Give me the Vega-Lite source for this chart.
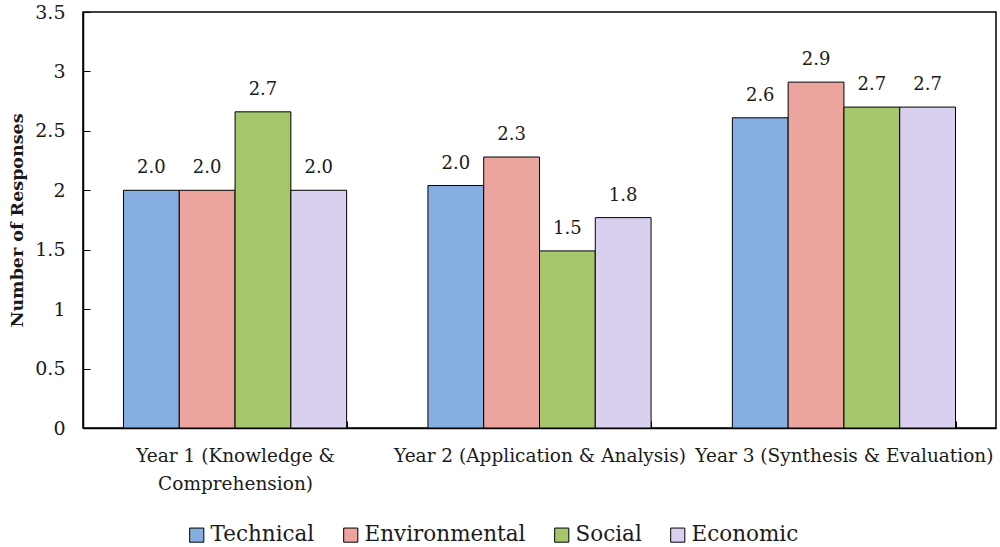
{
  "$schema": "https://vega.github.io/schema/vega-lite/v6.json",
  "width": 913,
  "height": 416,
  "autosize": {"type": "none"},
  "padding": {"left": 83, "top": 12, "right": 4, "bottom": 119},
  "config": {
    "view": {"stroke": "black", "strokeWidth": 1.5},
    "font": "DejaVu Serif",
    "axis": {"domainColor": "black", "tickColor": "black", "labelColor": "#1a1a1a", "titleColor": "#1a1a1a", "grid": false, "domainWidth": 1.5, "labelFont": "DejaVu Serif", "titleFont": "DejaVu Serif"},
    "legend": {"labelFont": "DejaVu Serif"},
    "text": {"font": "DejaVu Serif"}
  },
  "data": {
    "values": [
      {"year": "Year 1 (Knowledge & Comprehension)", "cat": "Technical", "value": 2.0},
      {"year": "Year 1 (Knowledge & Comprehension)", "cat": "Environmental", "value": 2.0},
      {"year": "Year 1 (Knowledge & Comprehension)", "cat": "Social", "value": 2.66},
      {"year": "Year 1 (Knowledge & Comprehension)", "cat": "Economic", "value": 2.0},
      {"year": "Year 2 (Application & Analysis)", "cat": "Technical", "value": 2.04},
      {"year": "Year 2 (Application & Analysis)", "cat": "Environmental", "value": 2.28},
      {"year": "Year 2 (Application & Analysis)", "cat": "Social", "value": 1.49},
      {"year": "Year 2 (Application & Analysis)", "cat": "Economic", "value": 1.77},
      {"year": "Year 3 (Synthesis & Evaluation)", "cat": "Technical", "value": 2.61},
      {"year": "Year 3 (Synthesis & Evaluation)", "cat": "Environmental", "value": 2.91},
      {"year": "Year 3 (Synthesis & Evaluation)", "cat": "Social", "value": 2.7},
      {"year": "Year 3 (Synthesis & Evaluation)", "cat": "Economic", "value": 2.7}
    ]
  },
  "encoding": {
    "x": {
      "field": "year",
      "type": "nominal",
      "sort": ["Year 1 (Knowledge & Comprehension)", "Year 2 (Application & Analysis)", "Year 3 (Synthesis & Evaluation)"],
      "scale": {"paddingInner": 0.267, "paddingOuter": 0.133},
      "axis": {
        "title": null,
        "labelAngle": 0,
        "tickBand": "extent",
        "tickSize": -7,
        "labelPadding": 25,
        "labelFontSize": 18.5,
        "labelLineHeight": 28,
        "labelLimit": 0,
        "labelExpr": "datum.value == 'Year 1 (Knowledge & Comprehension)' ? ['Year 1 (Knowledge &', 'Comprehension)'] : datum.value"
      }
    },
    "xOffset": {"field": "cat", "type": "nominal", "sort": ["Technical", "Environmental", "Social", "Economic"]},
    "y": {
      "field": "value",
      "type": "quantitative",
      "scale": {"domain": [0, 3.5]},
      "axis": {
        "values": [0, 0.5, 1, 1.5, 2, 2.5, 3, 3.5],
        "format": "~g",
        "title": "Number of Responses",
        "titleFontSize": 17.5,
        "titleFontWeight": "bold",
        "titlePadding": 8,
        "labelFontSize": 19,
        "tickSize": -7,
        "labelPadding": 25
      }
    }
  },
  "layer": [
    {
      "mark": {"type": "bar", "stroke": "black", "strokeWidth": 1},
      "encoding": {
        "color": {
          "field": "cat",
          "type": "nominal",
          "scale": {"domain": ["Technical", "Environmental", "Social", "Economic"], "range": ["#86aee0", "#eba49e", "#a6c66c", "#d9d0f0"]},
          "legend": {
            "title": null,
            "orient": "none",
            "legendX": 103,
            "legendY": 512,
            "direction": "horizontal",
            "symbolType": "square",
            "symbolSize": 200,
            "symbolStrokeColor": "black",
            "symbolStrokeWidth": 1,
            "labelFont": "DejaVu Serif",
            "labelFontSize": 21.5,
            "labelColor": "#1a1a1a",
            "labelOffset": 3,
            "columnPadding": 25,
            "labelLimit": 0
          }
        }
      }
    },
    {
      "mark": {"type": "text", "baseline": "middle", "dy": -22, "fontSize": 18, "color": "#1a1a1a", "font": "DejaVu Serif"},
      "encoding": {"text": {"field": "value", "type": "quantitative", "format": ".1f"}}
    }
  ]
}
